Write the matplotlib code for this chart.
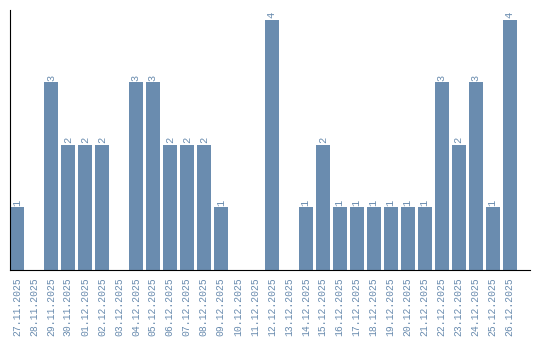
import matplotlib
matplotlib.use("Agg")
import matplotlib.pyplot as plt

dates = ["27.11.2025", "28.11.2025", "29.11.2025", "30.11.2025", "01.12.2025",
         "02.12.2025", "03.12.2025", "04.12.2025", "05.12.2025", "06.12.2025",
         "07.12.2025", "08.12.2025", "09.12.2025", "10.12.2025", "11.12.2025",
         "12.12.2025", "13.12.2025", "14.12.2025", "15.12.2025", "16.12.2025",
         "17.12.2025", "18.12.2025", "19.12.2025", "20.12.2025", "21.12.2025",
         "22.12.2025", "23.12.2025", "24.12.2025", "25.12.2025", "26.12.2025"]
counts = [1, 0, 3, 2, 2, 2, 0, 3, 3, 2, 2, 2, 1, 0, 0,
          4, 0, 1, 2, 1, 1, 1, 1, 1, 1, 3, 2, 3, 1, 4]

bar_color = "#6a8caf"
text_color = "#6a8caf"
mono = ["Liberation Mono", "DejaVu Sans Mono"]

fig = plt.figure(figsize=(5.4, 3.4), dpi=100)
ax = fig.add_axes([0.0185, 0.206, 0.963, 0.765])

x = list(range(len(dates)))
ax.bar(x, counts, width=0.82, color=bar_color)

# value labels above bars (skip zeros)
for i, v in enumerate(counts):
    if v > 0:
        ax.text(i, v + 0.03, str(v), rotation=90, ha="center", va="bottom",
                color=text_color, fontsize=7.5, family=mono)

ax.set_xlim(-0.41, 30.2)
ax.set_ylim(0, 4.16)
ax.set_xticks(x)
ax.set_xticklabels(dates, rotation=90, color=text_color, fontsize=7,
                   family=mono)
ax.tick_params(axis="x", length=0, pad=5)
ax.set_yticks([])
ax.spines["top"].set_visible(False)
ax.spines["right"].set_visible(False)
ax.spines["left"].set_color("black")
ax.spines["bottom"].set_color("black")

fig.savefig("out.png", dpi=100)
